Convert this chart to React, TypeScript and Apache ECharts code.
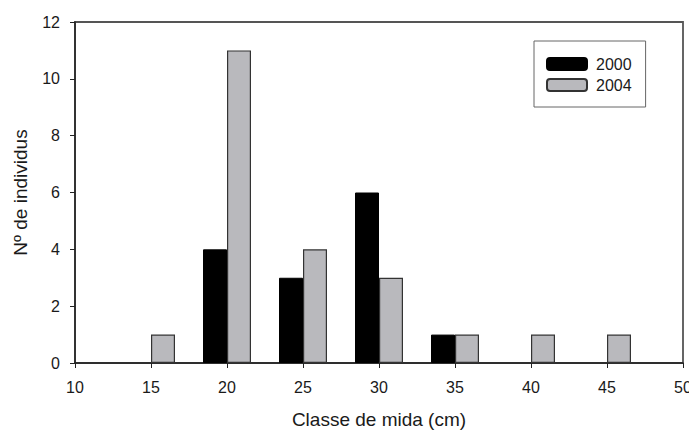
import React, { useEffect, useRef } from "react";
import * as echarts from "echarts";

const classes2000 = [20, 25, 30, 35];
const values2000 = [4, 3, 6, 1];
const classes2004 = [15, 20, 25, 30, 35, 40, 45];
const values2004 = [1, 11, 4, 3, 1, 1, 1];
const seriesNames = ["2000", "2004"];

export default function App() {
  const ref = useRef<HTMLDivElement>(null);
  useEffect(() => {
    const chart = echarts.init(ref.current!, null, { renderer: "svg" });
    const font = "Liberation Sans, Arial, sans-serif";
    chart.setOption({
      animation: false,
      backgroundColor: "#ffffff",
      textStyle: { fontFamily: font },
      grid: {
        left: 75,
        right: 6,
        top: 22,
        bottom: 69,
        outerBoundsMode: "none",
        containLabel: false,
        show: true,
        borderColor: "#555",
        borderWidth: 1.8,
      },
      legend: {
        left: 534,
        top: 41,
        orient: "vertical",
        itemWidth: 40,
        itemHeight: 12,
        itemGap: 5,
        padding: [15, 14, 14, 12],
        borderColor: "#666",
        borderWidth: 1,
        textStyle: { fontFamily: font, fontSize: 16, color: "#1a1a1a", padding: [0, 0, 0, 4] },
        data: seriesNames,
      },
      xAxis: {
        type: "value",
        min: 10,
        max: 50,
        interval: 5,
        name: "Classe de mida (cm)",
        nameLocation: "middle",
        nameGap: 47,
        nameTextStyle: { fontFamily: font, fontSize: 19, color: "#1a1a1a" },
        axisLine: { lineStyle: { color: "#222", width: 1.5 } },
        axisTick: { show: true, length: 5, lineStyle: { color: "#222" } },
        axisLabel: { fontFamily: font, fontSize: 16, color: "#1a1a1a", margin: 16 },
        splitLine: { show: false },
      },
      yAxis: {
        type: "value",
        min: 0,
        max: 12,
        interval: 2,
        name: "Nº de individus",
        nameLocation: "middle",
        nameGap: 45,
        nameTextStyle: { fontFamily: font, fontSize: 19, color: "#1a1a1a" },
        axisLine: { show: true, lineStyle: { color: "#222", width: 1.5 } },
        axisTick: { show: true, length: 5, lineStyle: { color: "#222" } },
        axisLabel: { fontFamily: font, fontSize: 16, color: "#1a1a1a", margin: 15 },
        splitLine: { show: false },
      },
      series: [
        {
          name: seriesNames[0],
          type: "bar",
          data: classes2000.map((c, i) => [c, values2000[i]]),
          barWidth: 24,
          barGap: "0%",
          itemStyle: { color: "#000000", borderColor: "#000", borderWidth: 1 },
        },
        {
          name: seriesNames[1],
          type: "bar",
          data: classes2004.map((c, i) => [c, values2004[i]]),
          barWidth: 24,
          barGap: "0%",
          itemStyle: { color: "#b9b9bd", borderColor: "#333", borderWidth: 1.2 },
        },
      ],
    });
    return () => chart.dispose();
  }, []);
  return <div ref={ref} style={{ width: 689, height: 432, position: "absolute", left: 0, top: 0 }} />;
}
